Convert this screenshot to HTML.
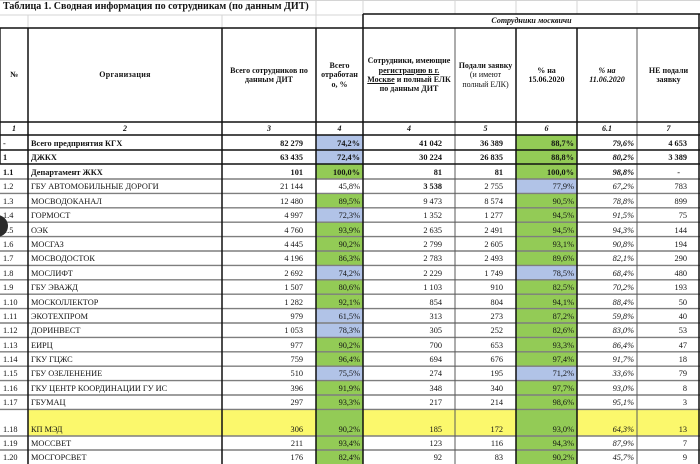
<!DOCTYPE html>
<html><head><meta charset="utf-8">
<style>
*{margin:0;padding:0;box-sizing:border-box}
html,body{width:700px;height:464px;background:#fff;overflow:hidden}
body{position:relative;font-family:"Liberation Serif","Noto Serif CJK SC",serif;color:#141414}
.g{position:absolute;left:0;top:0;width:700px;height:464px;display:grid;
grid-template-columns:28px 194px 94px 47px 92px 61px 61px 60px 63px;
grid-template-rows:14px 14px 94px 13px 15px 14px 15px repeat(16,14.4px) 26.6px 14px 14px;}
.g>div{display:flex;align-items:flex-end;font-size:8.3px;line-height:10px;padding-bottom:1px;white-space:nowrap;overflow:visible}
.t{grid-column:1/-1;font-size:10px!important;font-weight:bold;align-items:center!important;padding-left:3px;padding-bottom:0!important}
.m{grid-column:5/10;justify-content:center;align-items:center!important;font-weight:bold;font-style:italic;font-size:8px!important;padding-bottom:0!important}
.g>div.h{align-items:center;justify-content:center;text-align:center;font-weight:bold;font-size:8px;line-height:9.3px;padding:0 2px;white-space:nowrap}
.h>div{display:block;text-align:center}
.g>div.n{justify-content:center;align-items:center;font-weight:bold;font-style:italic;font-size:8px;padding-bottom:0}
.l{padding-left:3px}
.r{justify-content:flex-end;padding-right:13px}
.p{justify-content:flex-end;padding-right:3px}
.b{font-weight:bold}
.i{font-style:italic}
.G{background:#93cb56}
.B{background:#b1c3e7}
.Y{background:#fbf86c}
.u{text-decoration:underline}
.nb{font-weight:normal}
svg{position:absolute;left:0;top:0}
</style></head><body>
<div class="g">
<div class="t">Таблица 1. Сводная информация по сотрудникам (по данным ДИТ)</div>
<div style="grid-column:1/5"></div>
<div class="m">Сотрудники москвичи</div>

<div class="h"><div>№</div></div>
<div class="h"><div style="letter-spacing:0.3px">Организация</div></div>
<div class="h"><div>Всего сотрудников по<br>данным ДИТ</div></div>
<div class="h"><div>Всего<br>отработан<br>о, %</div></div>
<div class="h"><div>Сотрудники, имеющие<br><span class="u">регистрацию в г.</span><br><span class="u">Москве</span> и полный ЕЛК<br>по данным ДИТ</div></div>
<div class="h"><div>Подали заявку<br><span class="nb">(и имеют<br>полный ЕЛК)</span></div></div>
<div class="h"><div>% на<br>15.06.2020</div></div>
<div class="h i"><div>% на<br>11.06.2020</div></div>
<div class="h"><div>НЕ подали<br>заявку</div></div>

<div class="n">1</div><div class="n">2</div><div class="n">3</div><div class="n">4</div><div class="n">4</div><div class="n">5</div><div class="n">6</div><div class="n">6.1</div><div class="n">7</div>

<div class="l b">-</div><div class="l b">Всего предприятия КГХ</div><div class="r b">82 279</div><div class="p b B">74,2%</div><div class="r b">41 042</div><div class="r b">36 389</div><div class="p b G">88,7%</div><div class="p b i">79,6%</div><div class="r b">4 653</div>
<div class="l b">1</div><div class="l b">ДЖКХ</div><div class="r b">63 435</div><div class="p b B">72,4%</div><div class="r b">30 224</div><div class="r b">26 835</div><div class="p b G">88,8%</div><div class="p b i">80,2%</div><div class="r b">3 389</div>
<div class="l b">1.1</div><div class="l b">Департамент ЖКХ</div><div class="r b">101</div><div class="p b G">100,0%</div><div class="r b">81</div><div class="r b">81</div><div class="p b G">100,0%</div><div class="p b i">98,8%</div><div class="r b" style="padding-right:20px">-</div>
<div class="l">1.2</div><div class="l">ГБУ АВТОМОБИЛЬНЫЕ ДОРОГИ</div><div class="r">21 144</div><div class="p">45,8%</div><div class="r b">3 538</div><div class="r">2 755</div><div class="p B">77,9%</div><div class="p i">67,2%</div><div class="r">783</div>
<div class="l">1.3</div><div class="l">МОСВОДОКАНАЛ</div><div class="r">12 480</div><div class="p G">89,5%</div><div class="r">9 473</div><div class="r">8 574</div><div class="p G">90,5%</div><div class="p i">78,8%</div><div class="r">899</div>
<div class="l">1.4</div><div class="l">ГОРМОСТ</div><div class="r">4 997</div><div class="p B">72,3%</div><div class="r">1 352</div><div class="r">1 277</div><div class="p G">94,5%</div><div class="p i">91,5%</div><div class="r">75</div>
<div class="l">1.5</div><div class="l">ОЭК</div><div class="r">4 760</div><div class="p G">93,9%</div><div class="r">2 635</div><div class="r">2 491</div><div class="p G">94,5%</div><div class="p i">94,3%</div><div class="r">144</div>
<div class="l">1.6</div><div class="l">МОСГАЗ</div><div class="r">4 445</div><div class="p G">90,2%</div><div class="r">2 799</div><div class="r">2 605</div><div class="p G">93,1%</div><div class="p i">90,8%</div><div class="r">194</div>
<div class="l">1.7</div><div class="l">МОСВОДОСТОК</div><div class="r">4 196</div><div class="p G">86,3%</div><div class="r">2 783</div><div class="r">2 493</div><div class="p G">89,6%</div><div class="p i">82,1%</div><div class="r">290</div>
<div class="l">1.8</div><div class="l">МОСЛИФТ</div><div class="r">2 692</div><div class="p B">74,2%</div><div class="r">2 229</div><div class="r">1 749</div><div class="p B">78,5%</div><div class="p i">68,4%</div><div class="r">480</div>
<div class="l">1.9</div><div class="l">ГБУ ЭВАЖД</div><div class="r">1 507</div><div class="p G">80,6%</div><div class="r">1 103</div><div class="r">910</div><div class="p G">82,5%</div><div class="p i">70,2%</div><div class="r">193</div>
<div class="l">1.10</div><div class="l">МОСКОЛЛЕКТОР</div><div class="r">1 282</div><div class="p G">92,1%</div><div class="r">854</div><div class="r">804</div><div class="p G">94,1%</div><div class="p i">88,4%</div><div class="r">50</div>
<div class="l">1.11</div><div class="l">ЭКОТЕХПРОМ</div><div class="r">979</div><div class="p B">61,5%</div><div class="r">313</div><div class="r">273</div><div class="p G">87,2%</div><div class="p i">59,8%</div><div class="r">40</div>
<div class="l">1.12</div><div class="l">ДОРИНВЕСТ</div><div class="r">1 053</div><div class="p B">78,3%</div><div class="r">305</div><div class="r">252</div><div class="p G">82,6%</div><div class="p i">83,0%</div><div class="r">53</div>
<div class="l">1.13</div><div class="l">ЕИРЦ</div><div class="r">977</div><div class="p G">90,2%</div><div class="r">700</div><div class="r">653</div><div class="p G">93,3%</div><div class="p i">86,4%</div><div class="r">47</div>
<div class="l">1.14</div><div class="l">ГКУ ГЦЖС</div><div class="r">759</div><div class="p G">96,4%</div><div class="r">694</div><div class="r">676</div><div class="p G">97,4%</div><div class="p i">91,7%</div><div class="r">18</div>
<div class="l">1.15</div><div class="l">ГБУ ОЗЕЛЕНЕНИЕ</div><div class="r">510</div><div class="p B">75,5%</div><div class="r">274</div><div class="r">195</div><div class="p B">71,2%</div><div class="p i">33,6%</div><div class="r">79</div>
<div class="l">1.16</div><div class="l">ГКУ ЦЕНТР КООРДИНАЦИИ ГУ ИС</div><div class="r">396</div><div class="p G">91,9%</div><div class="r">348</div><div class="r">340</div><div class="p G">97,7%</div><div class="p i">93,0%</div><div class="r">8</div>
<div class="l">1.17</div><div class="l">ГБУМАЦ</div><div class="r">297</div><div class="p G">93,3%</div><div class="r">217</div><div class="r">214</div><div class="p G">98,6%</div><div class="p i">95,1%</div><div class="r">3</div>
<div class="l">1.18</div><div class="l Y">КП МЭД</div><div class="r Y">306</div><div class="p G">90,2%</div><div class="r Y">185</div><div class="r Y">172</div><div class="p G">93,0%</div><div class="p i Y">64,3%</div><div class="r Y">13</div>
<div class="l">1.19</div><div class="l">МОССВЕТ</div><div class="r">211</div><div class="p G">93,4%</div><div class="r">123</div><div class="r">116</div><div class="p G">94,3%</div><div class="p i">87,9%</div><div class="r">7</div>
<div class="l">1.20</div><div class="l">МОСГОРСВЕТ</div><div class="r">176</div><div class="p G">82,4%</div><div class="r">92</div><div class="r">83</div><div class="p G">90,2%</div><div class="p i">45,7%</div><div class="r">9</div>
</div>

<svg width="700" height="464" viewBox="0 0 700 464">
<g stroke="#d4d4d4" stroke-width="1">
<line x1="0" y1="0.5" x2="700" y2="0.5"/>
<line x1="0" y1="15" x2="363" y2="15"/>
<line x1="28" y1="15" x2="28" y2="28"/>
<line x1="222" y1="15" x2="222" y2="28"/>
<line x1="316" y1="0" x2="316" y2="28"/>
<line x1="363" y1="0" x2="363" y2="14"/>
<line x1="455" y1="0" x2="455" y2="14"/>
<line x1="516" y1="0" x2="516" y2="14"/>
<line x1="577" y1="0" x2="577" y2="14"/>
<line x1="637" y1="0" x2="637" y2="14"/>
</g>
<g stroke="#7e7e7e" stroke-width="1.4">
<line x1="0" y1="179" x2="700" y2="179"/>
<line x1="0" y1="193.4" x2="700" y2="193.4"/>
<line x1="0" y1="207.8" x2="700" y2="207.8"/>
<line x1="0" y1="222.2" x2="700" y2="222.2"/>
<line x1="0" y1="236.6" x2="700" y2="236.6"/>
<line x1="0" y1="251" x2="700" y2="251"/>
<line x1="0" y1="265.4" x2="700" y2="265.4"/>
<line x1="0" y1="279.8" x2="700" y2="279.8"/>
<line x1="0" y1="294.2" x2="700" y2="294.2"/>
<line x1="0" y1="308.6" x2="700" y2="308.6"/>
<line x1="0" y1="323" x2="700" y2="323"/>
<line x1="0" y1="337.4" x2="700" y2="337.4"/>
<line x1="0" y1="351.8" x2="700" y2="351.8"/>
<line x1="0" y1="366.2" x2="700" y2="366.2"/>
<line x1="0" y1="380.6" x2="700" y2="380.6"/>
<line x1="0" y1="395" x2="700" y2="395"/>
<line x1="0" y1="409.4" x2="700" y2="409.4"/>
<line x1="0" y1="436" x2="700" y2="436"/>
<line x1="0" y1="450" x2="700" y2="450"/>
</g>
<g stroke="#5a5a5a" stroke-width="1">
<line x1="455" y1="28" x2="455" y2="464"/>
<line x1="637" y1="28" x2="637" y2="464"/>
<line x1="0.5" y1="28" x2="0.5" y2="164"/>
</g>
<g stroke="#111" stroke-width="1.5">
<line x1="363" y1="14" x2="700" y2="14"/>
<line x1="0" y1="28" x2="700" y2="28"/>
<line x1="0" y1="122" x2="700" y2="122"/>
<line x1="0" y1="135" x2="700" y2="135"/>
<line x1="0" y1="150" x2="700" y2="150"/>
<line x1="0" y1="164" x2="700" y2="164"/>
<line x1="28" y1="28" x2="28" y2="464"/>
<line x1="222" y1="28" x2="222" y2="464"/>
<line x1="316" y1="28" x2="316" y2="464"/>
<line x1="363" y1="14" x2="363" y2="464"/>
<line x1="516" y1="28" x2="516" y2="464"/>
<line x1="577" y1="28" x2="577" y2="464"/>
<line x1="699" y1="14" x2="699" y2="464"/>
</g>
<circle cx="-3" cy="226" r="11" fill="#2b2b2b"/>
</svg>
</body></html>
